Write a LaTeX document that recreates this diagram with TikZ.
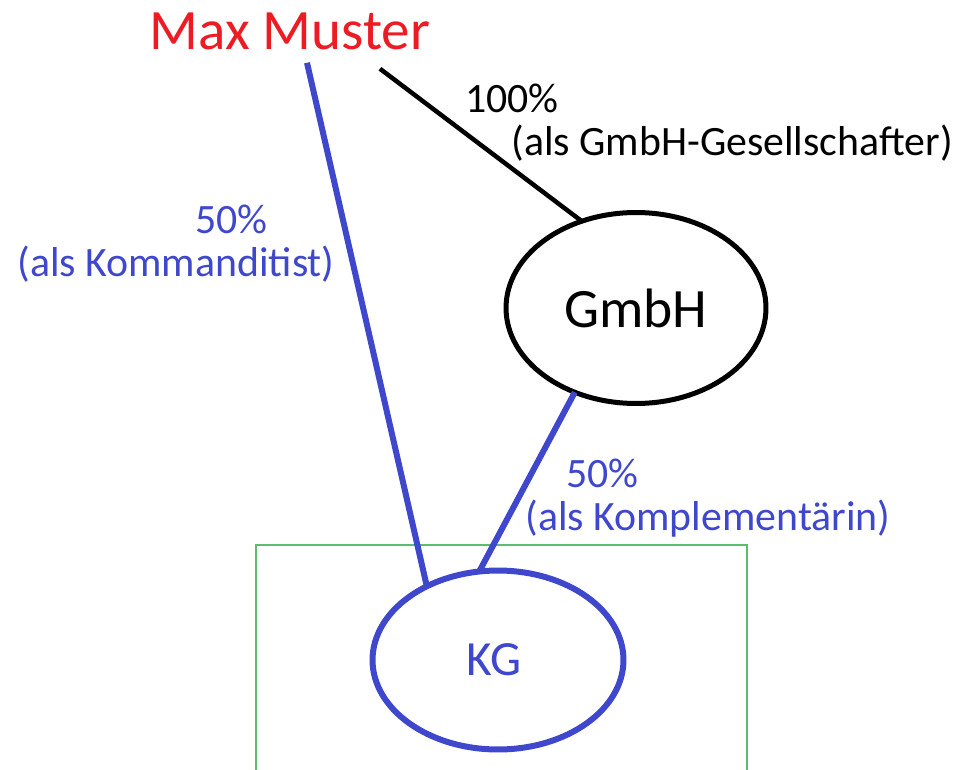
\documentclass[tikz,border=0pt]{standalone}
\usepackage{fontspec}
\setmainfont{Carlito}
\usetikzlibrary{shapes.geometric}
\definecolor{mred}{RGB}{237,28,36}
\definecolor{mblue}{RGB}{63,72,204}
\definecolor{mgreen}{RGB}{90,190,110}

\begin{document}
\begin{tikzpicture}[x=0.02cm, y=-0.02cm,
    firm/.style={ellipse, draw, inner sep=0, outer sep=0},
    share/.style={align=left, inner sep=0, anchor=north west, font=\fontsize{23.8}{24.5}\selectfont}]
  \useasboundingbox (0,0) rectangle (956,770);
  \draw[mgreen, line width=0.03cm] (256,775) |- (747,545) -- (747,775);
  \node[mred, inner sep=0, anchor=base, font=\fontsize{32.5}{34}\selectfont] (max) at (290,50) {Max Muster};
  \node[firm, black, line width=0.1cm, minimum width=5.2cm, minimum height=3.82cm, font=\fontsize{31.6}{32}\selectfont] (gmbh) at (636,308) {GmbH};
  \node[firm, mblue, line width=0.12cm, minimum width=5.02cm, minimum height=3.58cm, font=\fontsize{28}{30}\selectfont] (kg) at (498,660) {\raisebox{-0.12cm}{KG}\hspace*{0.16cm}};
  % Beteiligungen
  \draw[line width=0.09cm] ([xshift=1.8cm,yshift=-0.36cm]max.south) -- (gmbh.122);
  \draw[mblue, line width=0.12cm] ([xshift=0.34cm,yshift=-0.24cm]max.south) -- (kg.134.6);
  \draw[mblue, line width=0.12cm] (gmbh.234.5) -- (kg.102.8);
  \node[share] (own) at (465,84) {100\%\\\hspace*{0.92cm}(als GmbH-Gesellschafter)};
  \node[share, mblue] (kom) at (17,205) {\hspace*{3.56cm}50\%\\(als Kommanditist)};
  \node[share, mblue] (kpl) at (525,459) {\hspace*{0.82cm}50\%\\(als Komplementärin)};
\end{tikzpicture}
\end{document}
